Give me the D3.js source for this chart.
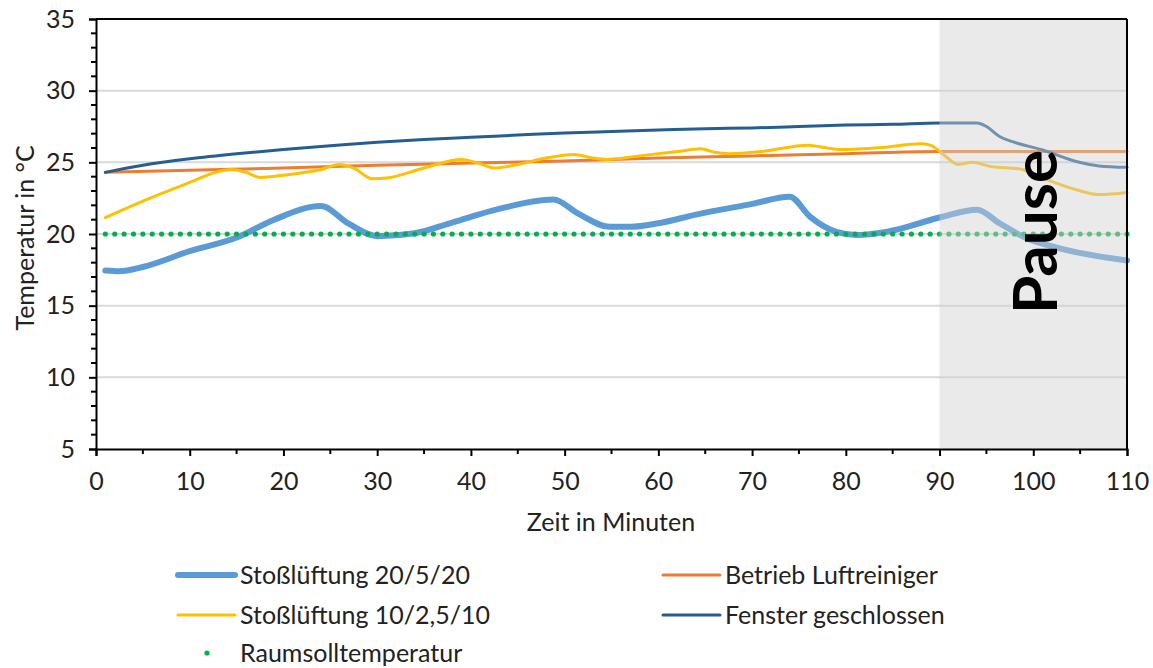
<!DOCTYPE html>
<html><head><meta charset="utf-8">
<script src="https://cdn.jsdelivr.net/npm/d3@7"></script>
<style>body{margin:0;background:#fff}svg{display:block}text{font-family:Lato,"Open Sans",sans-serif;fill:#222}</style>
</head><body><svg id="c" width="1153" height="668"></svg>
<script>
// ---- data ----
const seriesNames = ["Stoßlüftung 20/5/20","Betrieb Luftreiniger","Stoßlüftung 10/2,5/10","Fenster geschlossen","Raumsolltemperatur"];
const xTicks = [0,10,20,30,40,50,60,70,80,90,100,110];
const yTicks = [5,10,15,20,25,30,35];

const blueMin = [1,2.5,5,10,15,19,24,27,30,34,38,43,48.8,51.5,54.8,57,60,64,70,74,76.2,79,81.2,84.3,90,94,96.4,99.3,102.8,110];
const blueVal = [17.45,17.4,17.7,18.8,19.75,21.0,21.95,20.7,19.85,20.05,20.8,21.75,22.4,21.4,20.5,20.5,20.75,21.35,22.1,22.6,21.2,20.15,19.93,20.15,21.15,21.7,20.75,19.7,19.0,18.15];

const orangeMin = [1,10,20,30,40,50,60,70,80,90,100,110];
const orangeVal = [24.3,24.45,24.6,24.8,24.95,25.1,25.3,25.45,25.6,25.75,25.75,25.75];

const yellowMin = [1,5,10,13,14.5,16,17.5,20,24,26,27.5,29.5,31,35,39,41,42.5,45,48,51,53,54.5,58,62,64.5,66,67.5,71,76,78,79.5,84,88,89,90.5,92,93.5,95.5,98.5,101,104.5,107,110];
const yellowVal = [21.15,22.3,23.6,24.35,24.5,24.3,23.95,24.1,24.5,24.85,24.6,23.85,23.9,24.6,25.2,24.9,24.6,24.85,25.3,25.55,25.3,25.2,25.45,25.75,25.95,25.7,25.6,25.75,26.2,26.0,25.9,26.05,26.3,26.2,25.5,24.85,25.0,24.7,24.55,23.9,23.1,22.75,22.9];

const darkMin = [1,5,10,15,20,25,30,35,40,45,50,55,60,65,70,75,80,85,90,94,95,96.4,97.8,101,104.7,107,110];
const darkVal = [24.3,24.8,25.25,25.6,25.9,26.15,26.4,26.6,26.75,26.9,27.05,27.15,27.25,27.35,27.4,27.5,27.6,27.65,27.75,27.75,27.5,26.8,26.44,25.86,25.04,24.75,24.65];

const setMin = [1,2,3,4,5,6,7,8,9,10,11,12,13,14,15,16,17,18,19,20,21,22,23,24,25,26,27,28,29,30,31,32,33,34,35,36,37,38,39,40,41,42,43,44,45,46,47,48,49,50,51,52,53,54,55,56,57,58,59,60,61,62,63,64,65,66,67,68,69,70,71,72,73,74,75,76,77,78,79,80,81,82,83,84,85,86,87,88,89,90,91,92,93,94,95,96,97,98,99,100,101,102,103,104,105,106,107,108,109,110];
const setVal = 20;

const pauseStart = 90, pauseEnd = 110;

// ---- layout ----
const svg = d3.select("#c");
const L = 96, R = 1127, T = 19, B = 449;
const x = d3.scaleLinear().domain([0,110]).range([L,R]);
const y = d3.scaleLinear().domain([5,35]).range([B,T]);
const fs = 25;

// gridlines
svg.append("g").selectAll("line").data(yTicks.filter(v=>v>5&&v<35)).join("line")
  .attr("x1",L).attr("x2",R).attr("y1",d=>y(d)).attr("y2",d=>y(d))
  .attr("stroke","#d9d9d9").attr("stroke-width",2);

const zip = (a,b)=>a.map((m,i)=>[m,b[i]]);
const line = d3.line().x(d=>x(d[0])).y(d=>y(d[1])).curve(d3.curveMonotoneX);
const g = svg.append("g");
const series = [
  {d:zip(orangeMin,orangeVal), c:"#ed7d31", w:3},
  {d:zip(darkMin,darkVal), c:"#255e91", w:3},
  {d:zip(yellowMin,yellowVal), c:"#ffc000", w:3},
  {d:zip(blueMin,blueVal), c:"#5b9bd5", w:6},
];
series.forEach(s=>{
  g.append("path").attr("d",line(s.d)).attr("fill","none").attr("stroke",s.c)
   .attr("stroke-width",s.w).attr("stroke-linecap","round").attr("stroke-linejoin","round");
});
g.selectAll("circle").data(setMin).join("circle")
  .attr("cx",d=>x(d)).attr("cy",y(setVal)).attr("r",2.6).attr("fill","#00b050");

// pause overlay
svg.append("rect").attr("x",x(pauseStart)).attr("y",T).attr("width",x(pauseEnd)-x(pauseStart)).attr("height",B-T)
  .attr("fill","#d0d0d0").attr("opacity",0.45);
svg.append("text").attr("transform",`translate(1057,232) rotate(-90)`)
  .attr("text-anchor","middle").attr("font-size",62).attr("font-weight",700).style("fill","#000").text("Pause");

// frame
svg.append("line").attr("x1",L).attr("x2",R).attr("y1",T).attr("y2",T).attr("stroke","#000").attr("stroke-width",2);
svg.append("line").attr("x1",R).attr("x2",R).attr("y1",T).attr("y2",B).attr("stroke","#000").attr("stroke-width",2);

// axes
const yAxis = svg.append("g").attr("transform",`translate(${L},0)`)
  .call(d3.axisLeft(y).tickValues(yTicks).tickSize(7).tickPadding(14).tickFormat(d3.format("d")));
const xAxis = svg.append("g").attr("transform",`translate(0,${B})`)
  .call(d3.axisBottom(x).tickValues(xTicks).tickSize(7).tickPadding(16).tickFormat(d3.format("d")));
[yAxis,xAxis].forEach(a=>{
  a.select(".domain").attr("stroke","#000").attr("stroke-width",2);
  a.selectAll(".tick line").attr("stroke","#000").attr("stroke-width",2);
  a.selectAll("text").attr("font-size",fs).attr("font-family","Lato").style("fill","#222");
});
// minor ticks
const yMinor = d3.range(5,36).filter(v=>v%5!==0);
svg.append("g").selectAll("line").data(yMinor).join("line")
  .attr("x1",L-5).attr("x2",L).attr("y1",d=>y(d)).attr("y2",d=>y(d)).attr("stroke","#000").attr("stroke-width",2);
const xMinor = d3.range(5,110,10);
svg.append("g").selectAll("line").data(xMinor).join("line")
  .attr("x1",d=>x(d)).attr("x2",d=>x(d)).attr("y1",B).attr("y2",B+5).attr("stroke","#000").attr("stroke-width",2);

// axis titles
svg.append("text").attr("x",611).attr("y",522).attr("dy","0.35em").attr("text-anchor","middle").attr("font-size",fs).text("Zeit in Minuten");
svg.append("text").attr("transform",`translate(25,238) rotate(-90)`).attr("dy","0.35em").attr("text-anchor","middle").attr("font-size",fs).text("Temperatur in °C");

// legend
const leg = [
  {n:seriesNames[0], c:"#5b9bd5", w:6, x:178, y:575, t:"line"},
  {n:seriesNames[1], c:"#ed7d31", w:3, x:663, y:575, t:"line"},
  {n:seriesNames[2], c:"#ffc000", w:3, x:178, y:615, t:"line"},
  {n:seriesNames[3], c:"#255e91", w:3, x:663, y:615, t:"line"},
  {n:seriesNames[4], c:"#00b050", w:0, x:178, y:653, t:"dot"},
];
const lg = svg.append("g");
leg.forEach(e=>{
  if(e.t==="line") lg.append("line").attr("x1",e.x).attr("x2",e.x+57).attr("y1",e.y).attr("y2",e.y)
     .attr("stroke",e.c).attr("stroke-width",e.w).attr("stroke-linecap","round");
  else lg.append("circle").attr("cx",e.x+29).attr("cy",e.y).attr("r",2.6).attr("fill",e.c);
  lg.append("text").attr("x",e.x+62).attr("y",e.y).attr("dy","0.35em").attr("font-size",fs).text(e.n);
});
</script></body></html>
